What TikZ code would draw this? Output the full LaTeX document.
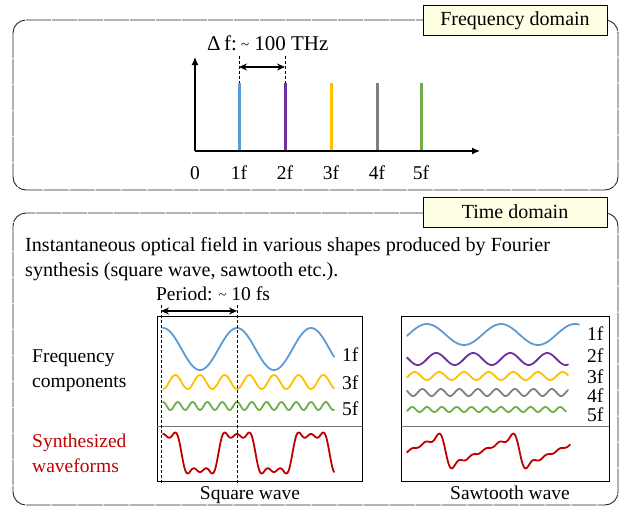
\documentclass[tikz,border=0pt]{standalone}
\usepackage{fontspec}
\setmainfont{Liberation Serif}
\usetikzlibrary{arrows.meta}
\definecolor{cblue}{HTML}{5B9BD5}
\definecolor{cpurple}{HTML}{7030A0}
\definecolor{cyellow}{HTML}{FFC000}
\definecolor{cgray}{HTML}{7F7F7F}
\definecolor{cgreen}{HTML}{70AD47}
\definecolor{cred}{HTML}{C00000}
\definecolor{labfill}{HTML}{FFFFE3}
\tikzset{
  frame/.style={draw=black!85, line width=0.9pt, rounded corners=13pt, dash pattern=on 25pt off 1pt},
  labbox/.style={draw=black, line width=0.8pt, fill=labfill, minimum width=184pt, minimum height=30pt, inner sep=0pt, font=\fontsize{20}{24}\selectfont},
  txt/.style={inner sep=0pt, font=\fontsize{19.5}{24}\selectfont},
  bigtxt/.style={inner sep=0pt, font=\fontsize{20.1}{24}\selectfont},
  flab/.style={inner sep=0pt, anchor=base, font=\fontsize{19.5}{24}\selectfont},
  wv/.style={line width=1.8pt, smooth, line cap=round, line join=round},
  bar/.style={line width=3pt},
  axis/.style={line width=1.3pt, -{Latex[length=8pt,width=7pt]}},
  dimarrow/.style={line width=1.2pt, {Stealth[length=8pt,width=7pt]}-{Stealth[length=8pt,width=7pt]}},
  guide/.style={line width=0.8pt, dashed, dash pattern=on 3pt off 2pt},
  panel/.style={draw=black, line width=1pt},
}
\begin{document}
\begin{tikzpicture}[x=1pt,y=-1pt]
\useasboundingbox (0,0) rectangle (638,517);
% ---------- Frequency domain ----------
\draw[frame] (13,20) rectangle (618,190);
\node[labbox] (fdlab) at (515,20.5) {Frequency domain};
\coordinate (o) at (195,151);
\coordinate (ytop) at (195,57);
\coordinate (xend) at (480,151);
\draw[axis] (o) -- (ytop);
\draw[axis] (o) -- (xend);
\foreach \n/\x/\c in {1/239/cblue,2/285/cpurple,3/331/cyellow,4/377/cgray,5/421/cgreen}{
  \coordinate (b\n) at (\x,150);
  \coordinate (t\n) at (\x,83);
  \draw[bar,\c] (b\n) -- (t\n);
  \node[flab] (l\n) at (\x,179) {\n f};
}
\node[flab] (l0) at (195,179) {0};
\coordinate (g1) at (239,56);
\coordinate (g2) at (285,56);
\draw[guide] (g1) -- (t1);
\draw[guide] (g2) -- (t2);
\coordinate (a1) at (239,67);
\coordinate (a2) at (285,67);
\draw[dimarrow] (a1) -- (a2);
\node[inner sep=0pt, anchor=base west] (df) at (207,50) {{\fontsize{21}{24}\selectfont Δ\,f:}\hspace{4pt}{\fontsize{21}{24}\selectfont \raisebox{1pt}{\fontsize{15}{16}\selectfont\char`~}\ 100 THz}};
% ---------- Time domain ----------
\draw[frame] (13,213) rectangle (618,505);
\node[labbox] (tdlab) at (515,212) {Time domain};
\node[bigtxt, anchor=base west] (line1) at (25,251) {Instantaneous optical field in various shapes produced by Fourier};
\node[bigtxt, anchor=base west] (line2) at (25,276) {synthesis (square wave, sawtooth etc.).};
\node[txt, anchor=base] (period) at (213,300) {Period: \raisebox{1pt}{\fontsize{14}{15}\selectfont\char`~}\ 10 fs};
% left labels
\node[txt, anchor=base west] (fc1) at (32,362) {Frequency};
\node[txt, anchor=base west] (fc2) at (32,387) {components};
\node[txt, anchor=base west, text=cred] (sw1) at (32,447) {Synthesized};
\node[txt, anchor=base west, text=cred] (sw2) at (32,472) {waveforms};
% square-wave panel
\draw[panel] (157,316) rectangle (362,481);
\draw[black!55, line width=0.8pt] (157,426) -- (362,426);
\draw[wv, cblue, samples=120, domain=163:334] plot (\x, {349 - 21*cos(4.864865*(\x-163))});
\draw[wv, cyellow, samples=160, domain=163:334] plot (\x, {382 + 7*cos(3*4.864865*(\x-163))});
\draw[wv, cgreen, samples=200, domain=163:334] plot (\x, {406 - 4*cos(5*4.864865*(\x-163))});
\draw[wv, cred, samples=240, domain=163:334] plot (\x, {453 - 22*(cos(4.864865*(\x-163)) - cos(3*4.864865*(\x-163))/3 + cos(5*4.864865*(\x-163))/5)});
\node[flab, anchor=base west] (s1) at (342,361) {1f};
\node[flab, anchor=base west] (s3) at (342,389) {3f};
\node[flab, anchor=base west] (s5) at (342,415) {5f};
\coordinate (p1t) at (161,305);
\coordinate (p1b) at (161,483);
\coordinate (p2t) at (237,305);
\coordinate (p2b) at (237,483);
\draw[guide] (p1t) -- (p1b);
\draw[guide] (p2t) -- (p2b);
\coordinate (pa1) at (161,311);
\coordinate (pa2) at (237,311);
\draw[dimarrow] (pa1) -- (pa2);
\node[txt, anchor=base] (sqlab) at (250,499) {Square wave};
% sawtooth panel
\draw[panel] (401,316) rectangle (609,481);
\draw[black!55, line width=0.8pt] (401,426) -- (609,426);
\draw[wv, cblue, samples=120, domain=407:579] plot (\x, {334.5 - 10.5*sin(4.864865*(\x-408.5))});
\draw[wv, cpurple, samples=160, domain=407:568] plot (\x, {359 + 6*sin(2*4.864865*(\x-408.5))});
\draw[wv, cyellow, samples=180, domain=407:568] plot (\x, {376 - 4*sin(3*4.864865*(\x-408.5))});
\draw[wv, cgray, samples=200, domain=407:568] plot (\x, {392.5 + 3.5*sin(4*4.864865*(\x-408.5))});
\draw[wv, cgreen, samples=220, domain=407:566] plot (\x, {409.5 - 2.5*sin(5*4.864865*(\x-408.5))});
\draw[wv, cred, samples=260, domain=407:570] plot (\x, {451 - 11*(sin(4.864865*(\x-408.5)) - sin(2*4.864865*(\x-408.5))/2 + sin(3*4.864865*(\x-408.5))/3 - sin(4*4.864865*(\x-408.5))/4 + sin(5*4.864865*(\x-408.5))/5)});
\node[flab, anchor=base west] (w1) at (587,340) {1f};
\node[flab, anchor=base west] (w2) at (587,362) {2f};
\node[flab, anchor=base west] (w3) at (587,383) {3f};
\node[flab, anchor=base west] (w4) at (587,402) {4f};
\node[flab, anchor=base west] (w5) at (587,421) {5f};
\node[txt, anchor=base] (stlab) at (510,499) {Sawtooth wave};
\end{tikzpicture}
\end{document}
